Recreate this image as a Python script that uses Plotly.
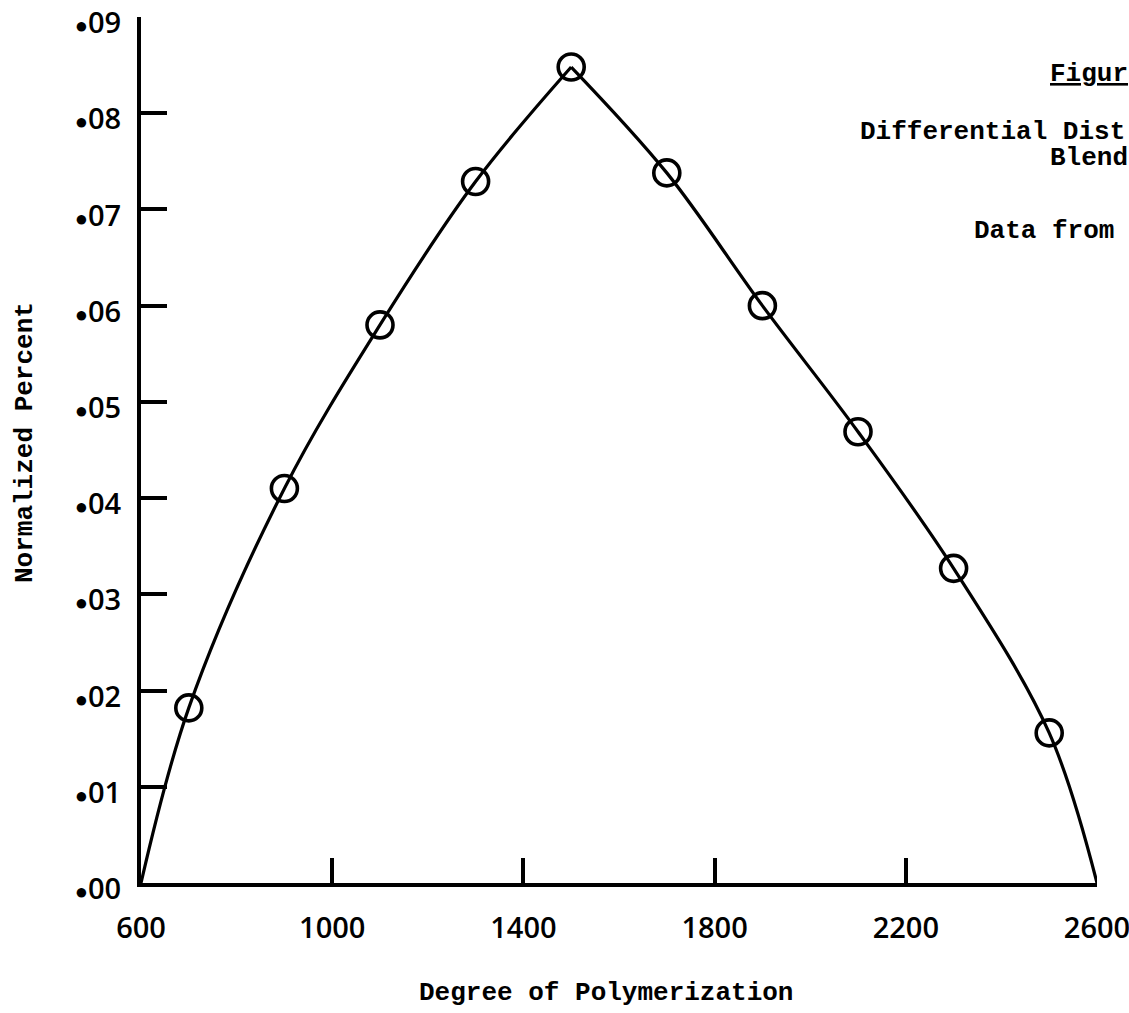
import plotly.graph_objects as go

# Measured distribution: degree of polymerization vs normalized percent
dp = [700, 900, 1100, 1300, 1500, 1700, 1900, 2100, 2300, 2500]
norm_pct = [0.0182, 0.0410, 0.0580, 0.0729, 0.0848, 0.0738, 0.0600, 0.0469, 0.0327, 0.0156]

# Curve end points where the distribution falls to zero
dp_min, dp_max = 600, 2600
peak = norm_pct.index(max(norm_pct))

x_ticks = [600, 1000, 1400, 1800, 2200, 2600]
y_ticks = [0.00, 0.01, 0.02, 0.03, 0.04, 0.05, 0.06, 0.07, 0.08, 0.09]
y_tick_digits = ["00", "01", "02", "03", "04", "05", "06", "07", "08", "09"]

dot = '<span style="font-size:22px">●</span>'
y_tick_text = [dot + d for d in y_tick_digits]

mono = "Liberation Mono"
num_font = dict(family="Open Sans", size=29, color="black", weight=600)

fig = go.Figure()

# Rising branch up to the peak
fig.add_trace(go.Scatter(
    x=[dp_min] + dp[:peak + 1],
    y=[0] + norm_pct[:peak + 1],
    mode="lines", line=dict(color="black", width=3.2, shape="spline", smoothing=1.0),
    hoverinfo="skip", showlegend=False,
))
# Falling branch after the peak
fig.add_trace(go.Scatter(
    x=dp[peak:] + [dp_max],
    y=norm_pct[peak:] + [0],
    mode="lines", line=dict(color="black", width=3.2, shape="spline", smoothing=1.0),
    hoverinfo="skip", showlegend=False,
))
# Data points
fig.add_trace(go.Scatter(
    x=dp, y=norm_pct, mode="markers",
    marker=dict(symbol="circle-open", size=26, color="black", line=dict(width=3.6, color="black")),
    showlegend=False,
))

fig.update_xaxes(
    range=[dp_min, dp_max], tickvals=x_ticks, ticktext=[str(v) for v in x_ticks],
    ticks="inside", ticklen=25, tickwidth=4, tickcolor="black",
    showline=True, linewidth=4, linecolor="black",
    showgrid=False, zeroline=False, tickfont=num_font, ticklabelstandoff=16,
    automargin=False, ticklabeloverflow="allow",
)
fig.update_yaxes(
    range=[0, 0.09], tickvals=y_ticks, ticktext=y_tick_text,
    ticks="inside", ticklen=26, tickwidth=4, tickcolor="black",
    showline=True, linewidth=4, linecolor="black",
    showgrid=False, zeroline=False, tickfont=num_font, ticklabelstandoff=10,
    ticklabelshift=6,
    automargin=False, ticklabeloverflow="allow",
)

text_font = dict(family=mono, size=26, color="black", weight="bold")

def px_x(p):
    return (p - 141) / (1097 - 141)

def px_y(p):
    return (883 - p) / (883 - 17)

annotations = [
    dict(text="Degree of Polymerization", x=px_x(417), y=px_y(993), xanchor="left", yanchor="middle"),
    dict(text="Normalized Percent", x=px_x(25), y=px_y(443), xanchor="center", yanchor="middle", textangle=-90),
    dict(text="<u>Figur</u>", x=px_x(1048), y=px_y(74), xanchor="left", yanchor="middle"),
    dict(text="Differential Dist", x=px_x(858), y=px_y(132), xanchor="left", yanchor="middle"),
    dict(text="Blend", x=px_x(1048), y=px_y(158), xanchor="left", yanchor="middle"),
    dict(text="Data from", x=px_x(972), y=px_y(231), xanchor="left", yanchor="middle"),
]
for a in annotations:
    fig.add_annotation(xref="paper", yref="paper", showarrow=False, font=text_font, **a)

fig.update_layout(
    width=1129, height=1013,
    margin=dict(l=141, r=32, t=17, b=130, autoexpand=False),
    paper_bgcolor="white", plot_bgcolor="white",
)

fig.write_html("out.html")
